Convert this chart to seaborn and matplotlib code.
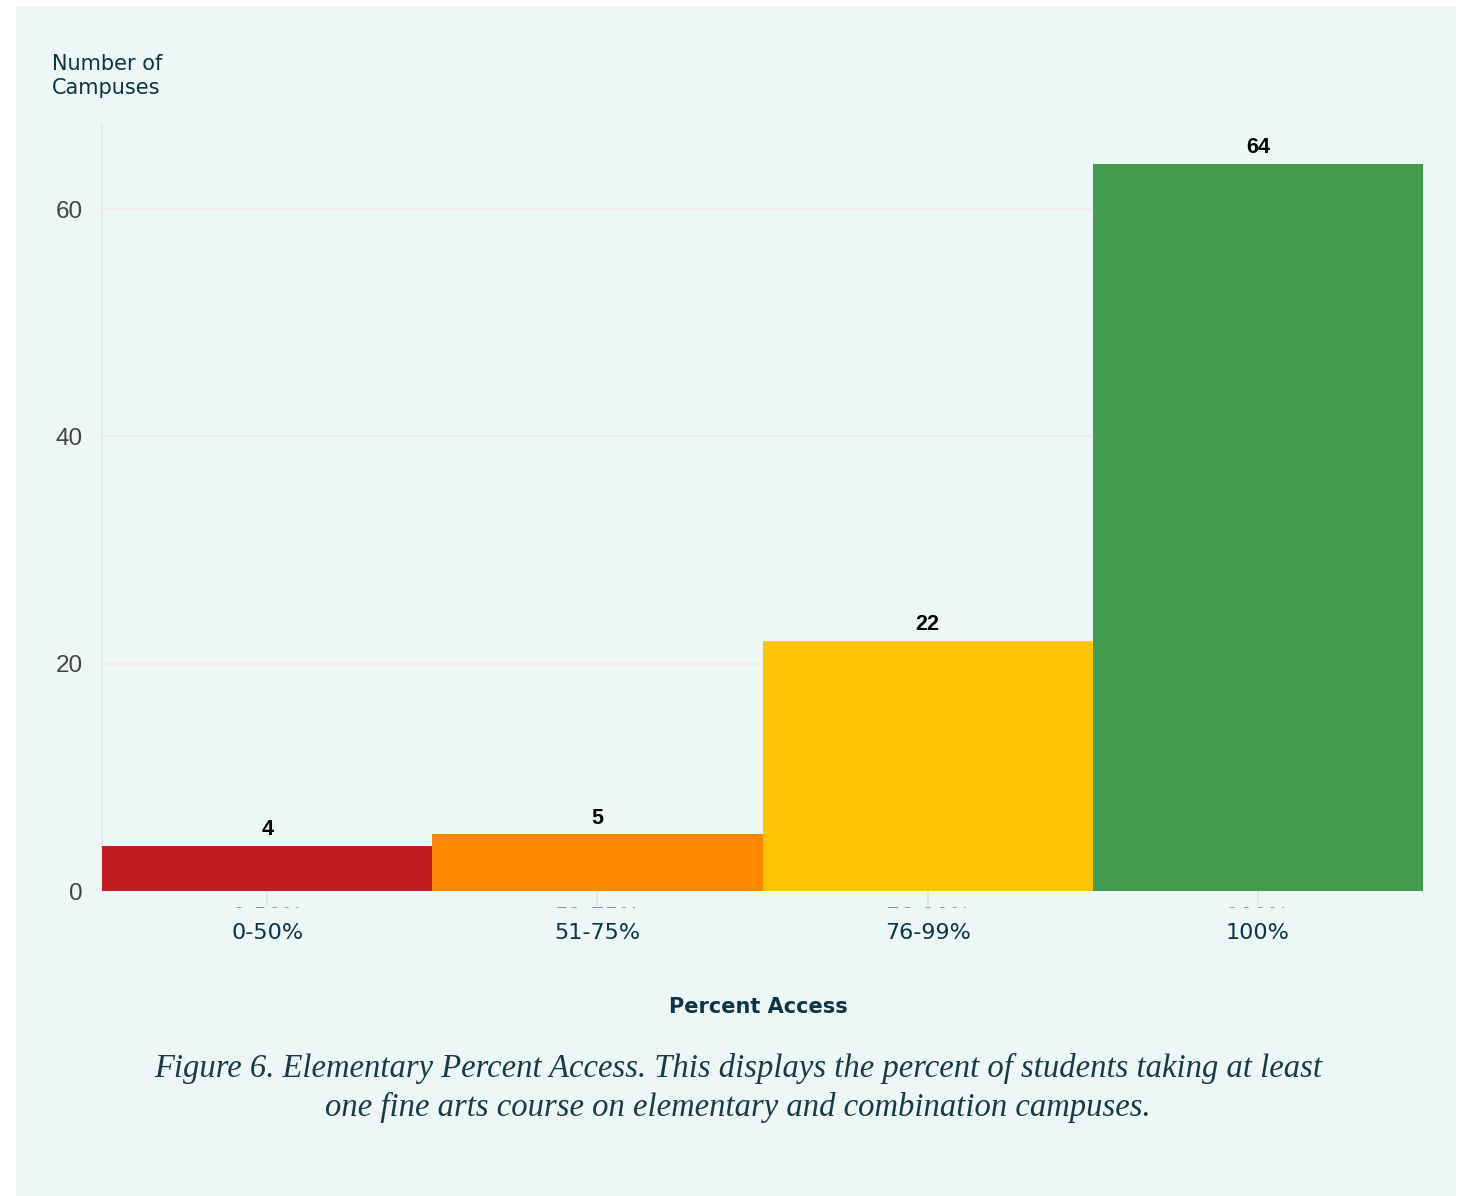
import matplotlib
matplotlib.use("Agg")
import matplotlib.pyplot as plt
import matplotlib.patches as mpatches
from matplotlib.transforms import Bbox, ScaledTranslation
import seaborn as sns
import pandas as pd

# Campus counts by share of students taking a fine arts course
categories = ["0-50%", "51-75%", "76-99%", "100%"]
campuses = [4, 5, 22, 64]
bar_colors = ["#C21E21", "#FF8800", "#FFC403", "#439B50"]
y_ticks = [0, 20, 40, 60]

BG = "#EDF7F6"
DARK = "#0E3445"
W, H = 1460, 1196

sns.set_theme(style="white")
plt.rcParams["font.family"] = ["Liberation Sans", "DejaVu Sans"]

df = pd.DataFrame({"Percent Access": categories, "Campuses": campuses})

fig = plt.figure(figsize=(W / 100, H / 100), dpi=100, facecolor="white")
# mint panel behind the chart
fig.patches.append(mpatches.Rectangle((16 / W, 0), 1440 / W, 1190 / H,
                                      transform=fig.transFigure, facecolor=BG,
                                      edgecolor="none", zorder=-10))

ax = fig.add_axes([102 / W, 1 - 891 / H, 1321 / W, 767 / H])
ax.set_zorder(1)
ax.patch.set_visible(False)

sns.barplot(data=df, x="Percent Access", y="Campuses", hue="Percent Access",
            palette=bar_colors, width=1.0, dodge=False, legend=False,
            saturation=1, linewidth=0, ax=ax, zorder=3)

ax.set_xlim(-0.5, 3.5)
ax.set_ylim(0, 67.5)
ax.set_yticks(y_ticks)
ax.set_yticklabels([str(t) for t in y_ticks], fontsize=17.5, color="#444444")
ax.tick_params(axis="y", left=False, length=0, pad=14)
ax.set_xticks(range(len(categories)))
ax.set_xticklabels(categories, fontsize=16, color=DARK, family=["DejaVu Sans"])
ax.tick_params(axis="x", bottom=True, length=11, width=1.2, color="#E2E2E8", pad=12)

for t in y_ticks[1:]:
    ax.axhline(t, color="#F2EAEE", lw=1.5, zorder=1)

for s in ["top", "right", "bottom"]:
    ax.spines[s].set_visible(False)
ax.spines["left"].set_color("#EBE6EA")
ax.spines["left"].set_linewidth(1.5)

for i, v in enumerate(campuses):
    ax.text(i, v + 0.5, str(v), ha="center", va="bottom", fontsize=15.5,
            fontweight="bold", color="black")

# faint duplicate category labels peeking out just under the tick marks
ghost_clip = Bbox.from_extents(0, H - 908, W, H - 901)
for i, c in enumerate(categories):
    g = ax.text(i, 0, c, ha="center", va="center", fontsize=16, color="#8A8F95",
                family=["DejaVu Sans"],
                transform=ax.get_xaxis_transform() + ScaledTranslation(
                    0, -26 / 100, fig.dpi_scale_trans))
    g.set_clip_box(ghost_clip)
    g.set_clip_on(True)

ax.set_xlabel("")
ax.set_ylabel("")

fig.text(52 / W, 1 - 76 / H, "Number of\nCampuses", ha="left", va="center",
         fontsize=15, color=DARK, family=["DejaVu Sans"], linespacing=1.25)
fig.text(758 / W, 1 - 1007 / H, "Percent Access", ha="center", va="center",
         fontsize=15, fontweight="bold", color=DARK, family=["DejaVu Sans"])
fig.text(738 / W, 1 - 1088 / H,
         "Figure 6. Elementary Percent Access. This displays the percent of students taking at least\n"
         "one fine arts course on elementary and combination campuses.",
         ha="center", va="center", fontsize=23.5, style="italic", color="#1A3A46",
         family=["Liberation Serif", "DejaVu Serif"], linespacing=1.3)

fig.savefig("out.png", dpi=100, facecolor="white")
